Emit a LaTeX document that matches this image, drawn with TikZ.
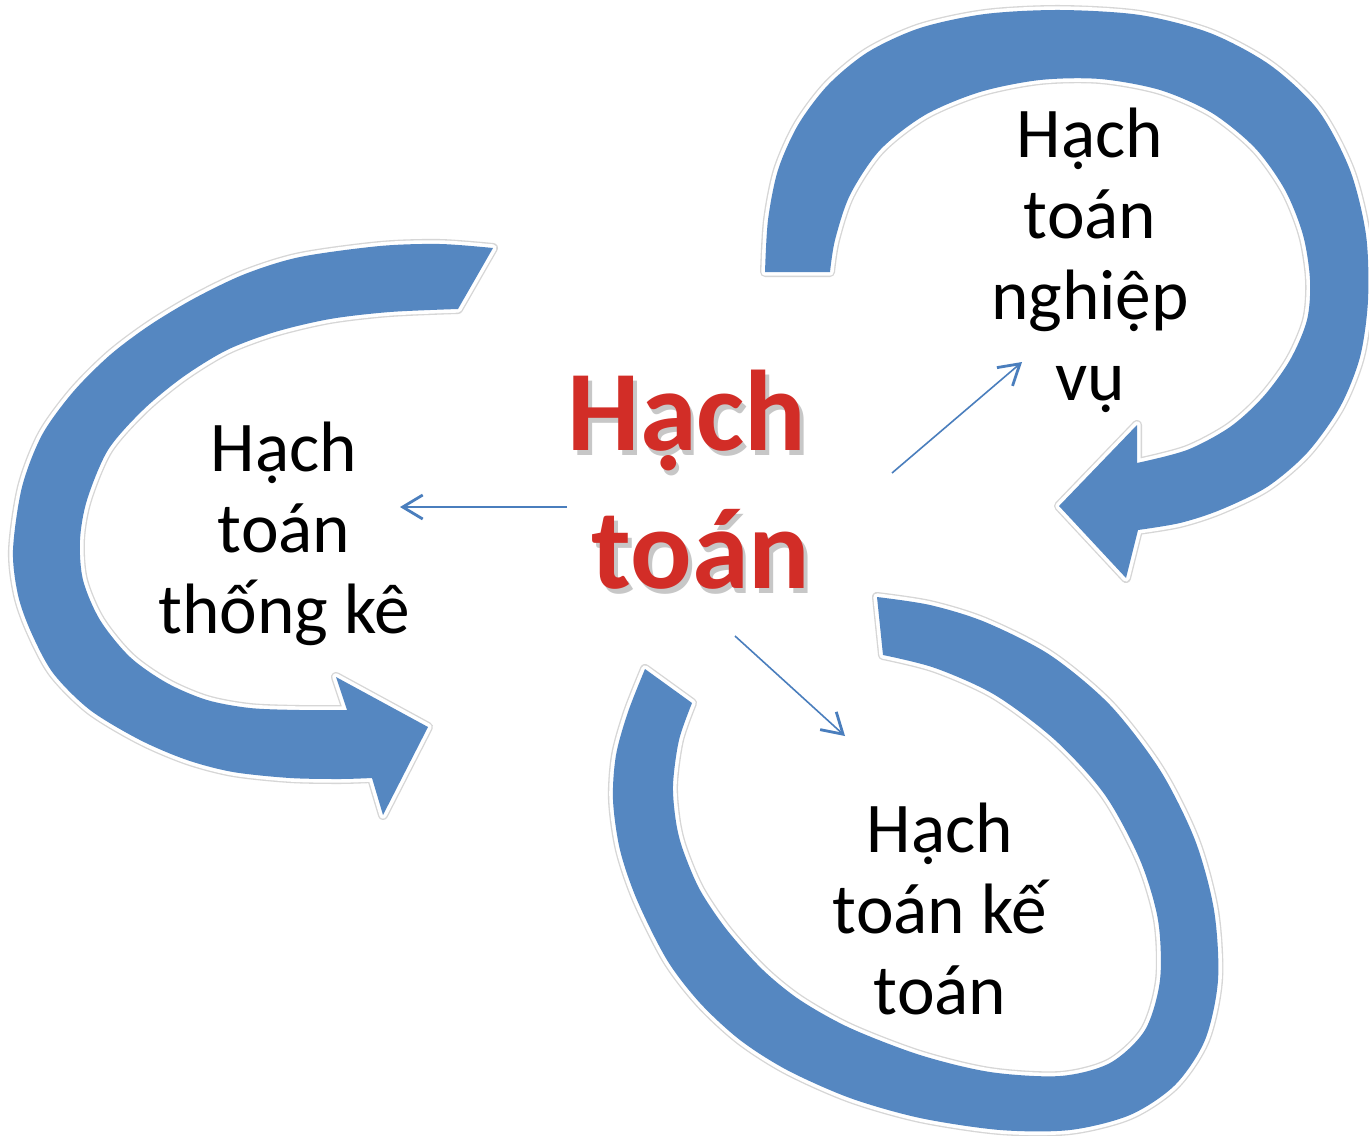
\documentclass[tikz,border=0pt]{standalone}
\usepackage{fontspec}
\setmainfont{Carlito}
\usetikzlibrary{arrows.meta}
\definecolor{ringblue}{HTML}{5587C1}
\definecolor{thinblue}{HTML}{4A7EBD}
\definecolor{hred}{HTML}{D22D27}
\newcommand{\shadowtext}[1]{%
  \makebox[0pt][l]{\kern2.6pt\raisebox{-3.9pt}{\textcolor{black!22}{#1}}}%
  #1}
\begin{document}
\begin{tikzpicture}[x=0.75pt,y=-0.75pt,
  ring/.style={fill=ringblue, line join=round,
    preaction={draw=black!16, line width=7.5pt, line join=round},
    preaction={draw=white, line width=5.5pt, line join=round}},
  lbl/.style={font=\fontsize{53.5}{60.75}\selectfont, anchor=base, inner sep=0pt},
  ctr/.style={font=\fontsize{86}{100}\selectfont\bfseries, anchor=base, inner sep=0pt, text=hred},
  thinarrow/.style={draw=thinblue, line width=1.2pt,
    -{Straight Barb[length=15pt, width=18pt, line width=2.1pt]}}
]
\useasboundingbox (0,0) rectangle (1369,1135);
\fill[white] (0,0) rectangle (1369,1135);

% top-right circular arrow
\path[ring] (765,272) -- plot[smooth] coordinates {(765,272) (768,220) (778,170) (798,125) (828,85) (868,52) (920,28) (985,14) (1060,10) (1140,15) (1210,33) (1270,65) (1318,110) (1350,170) (1366,235) (1368,300) (1360,357) (1340,407) (1307,453) (1267,487) (1220,510) (1180,523) (1138,530)}
  -- (1126,578) -- (1059,506) -- (1137,425) -- (1137,463)
  -- plot[smooth] coordinates {(1137,463) (1187,450) (1230,427) (1263,397) (1290,360) (1307,320) (1310,280) (1303,235) (1285,190) (1255,148) (1212,113) (1160,90) (1100,79) (1040,80) (980,92) (925,115) (880,150) (850,195) (835,240) (830,272)} -- cycle;

% left circular arrow
\path[ring] (493,248) -- plot[smooth] coordinates {(493,248) (440,244) (380,246) (300,257) (245,274) (195,298) (150,325) (110,355) (73,392) (42,435) (22,487) (13,550) (18,595) (31,632) (53,673) (90,710) (140,740) (187,760) (233,772) (290,778) (340,779) (372,778)}
  -- (383,815) -- (428,727) -- (336,677) -- (347,710)
  -- plot[smooth] coordinates {(347,710) (300,710) (250,708) (207,700) (167,683) (130,657) (100,620) (83,580) (80,540) (87,500) (108,450) (143,410) (183,377) (227,350) (275,332) (330,319) (390,312) (458,309)} -- cycle;

% bottom ring
\path[ring] (877,597) -- plot[smooth] coordinates {(877,597) (930,605) (985,622) (1050,655) (1110,705) (1160,770) (1195,840) (1214,910) (1218,980) (1205,1040) (1175,1085) (1130,1115) (1070,1130) (1000,1130) (920,1118) (850,1098) (787,1070) (740,1040) (700,1003) (667,960) (637,900) (620,850) (613,800) (616,755) (628,712) (645,669)}
  -- (692,703)
  -- plot[smooth] coordinates {(692,703) (679,740) (673,785) (676,822) (683,850) (700,890) (727,930) (763,970) (800,1000) (850,1028) (920,1055) (990,1072) (1060,1076) (1110,1063) (1145,1030) (1160,980) (1158,920) (1140,860) (1105,795) (1055,740) (995,695) (935,668) (883,655)} -- cycle;

% labels
\node[lbl] (nv) at (1090,157) {\begin{tabular}[t]{@{}c@{}}Hạch\\toán\\nghiệp\\vụ\end{tabular}};
\node[lbl] (tk) at (284,471) {\begin{tabular}[t]{@{}c@{}}Hạch\\toán\\thống kê\end{tabular}};
\node[lbl] (kt) at (940,852) {\begin{tabular}[t]{@{}c@{}}Hạch\\toán kế\\toán\end{tabular}};

% centre title with soft shadow
\node[ctr] (hach) at (687,450) {\shadowtext{Hạch}};
\node[ctr] (toan) at (701,588) {\shadowtext{toán}};

% connectors
\coordinate (s1) at (567,507); \coordinate (e1) at (400,507);
\coordinate (s2) at (892,473); \coordinate (e2) at (1022,362);
\coordinate (s3) at (735,636); \coordinate (e3) at (845,736);
\draw[thinarrow] (s1) -- (e1);
\draw[thinarrow] (s2) -- (e2);
\draw[thinarrow] (s3) -- (e3);
\end{tikzpicture}
\end{document}
